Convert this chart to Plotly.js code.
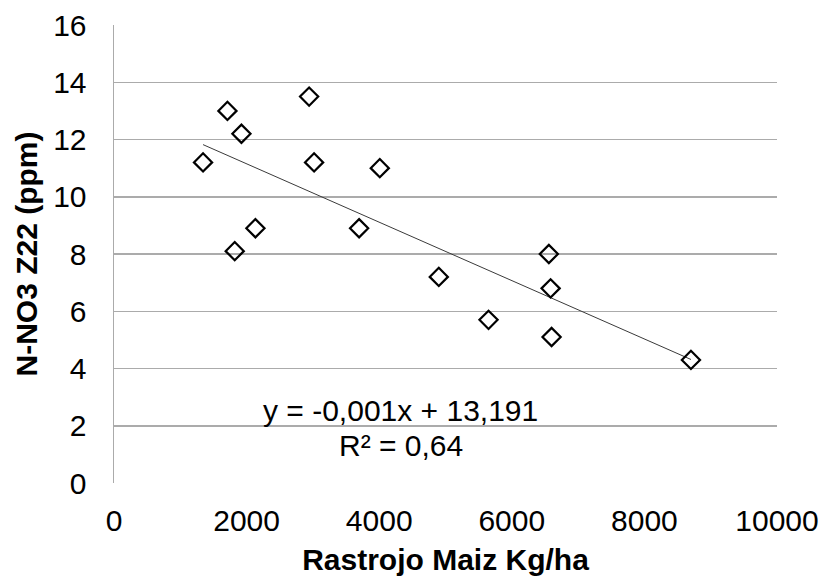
<!DOCTYPE html>
<html>
<head>
<meta charset="utf-8">
<script src="https://cdn.plot.ly/plotly-3.0.1.min.js"></script>
<style>
  html, body { margin: 0; padding: 0; background: #ffffff; }
  #chart { width: 824px; height: 579px; }
</style>
</head>
<body>
<div id="chart"></div>
<script>
// Corn stubble (kg/ha) vs. soil nitrate at Z22 (ppm)
const rastrojo = [1343, 1711, 1821, 1922, 2133, 2943, 3018, 3697, 4009, 4899, 5649, 6559, 6585, 6600, 8702];
const nitrato  = [11.2, 13.0, 8.1, 12.2, 8.9, 13.5, 11.2, 8.9, 11.0, 7.2, 5.7, 8.0, 6.8, 5.1, 4.3];

// Linear trend coefficients
const trendSlope = -0.00102;
const trendIntercept = 13.191;
const trendR2 = 0.64;

const xTicks = [0, 2000, 4000, 6000, 8000, 10000];
const yTicks = [0, 2, 4, 6, 8, 10, 12, 14, 16];

const xMin = Math.min(...rastrojo);
const xMax = Math.max(...rastrojo);
const trendX = [xMin, xMax];
const trendY = trendX.map(v => trendIntercept + trendSlope * v);

const fmt = (v, d) => v.toFixed(d).replace('.', ',');
const eqText = 'y = ' + fmt(trendSlope, 3) + 'x + ' + fmt(trendIntercept, 3);
const r2Text = 'R² = ' + fmt(trendR2, 2);

const font = 'Liberation Sans, Arial, sans-serif';
const tickSize = 30;
const titleSize = 30;

const data = [
  {
    x: trendX, y: trendY,
    type: 'scatter', mode: 'lines',
    line: { color: '#3a3a3a', width: 1 },
    hoverinfo: 'skip', showlegend: false
  },
  {
    x: rastrojo, y: nitrato,
    type: 'scatter', mode: 'markers',
    marker: { symbol: 'diamond-open', size: 14, color: '#000000', line: { color: '#000000', width: 2.2 } },
    showlegend: false
  }
];

const layout = {
  width: 824, height: 579,
  margin: { l: 114, r: 47, t: 25, b: 96, pad: 0 },
  paper_bgcolor: '#ffffff', plot_bgcolor: '#ffffff',
  font: { family: font, color: '#000000', size: tickSize },
  xaxis: {
    range: [0, 10000],
    tickvals: xTicks,
    ticktext: xTicks.map(String),
    showgrid: false, zeroline: false,
    showline: false,
    ticks: '', ticklabelstandoff: 17,
    tickfont: { family: font, size: tickSize, color: '#000000' },
    title: { text: '<b>Rastrojo Maiz Kg/ha</b>', font: { family: font, size: titleSize, color: '#000000' }, standoff: 12 },
    automargin: false,
    fixedrange: true
  },
  yaxis: {
    range: [0, 16],
    tickvals: yTicks,
    ticktext: yTicks.map(String),
    showgrid: true, gridcolor: '#ababab', gridwidth: 1.5,
    zeroline: false,
    showline: true, linecolor: '#ababab', linewidth: 1.5,
    ticks: '', ticklabelstandoff: 20,
    tickfont: { family: font, size: tickSize, color: '#000000' },
    title: { text: '<b>N-NO3 Z22 (ppm)</b>', font: { family: font, size: titleSize, color: '#000000' }, standoff: 6 },
    automargin: false,
    fixedrange: true
  },
  annotations: [
    {
      x: 4326, y: 2.55, xref: 'x', yref: 'y',
      text: eqText, showarrow: false,
      font: { family: font, size: tickSize, color: '#000000' },
      xanchor: 'center', yanchor: 'middle'
    },
    {
      x: 4326, y: 1.3, xref: 'x', yref: 'y',
      text: r2Text, showarrow: false,
      font: { family: font, size: tickSize, color: '#000000' },
      xanchor: 'center', yanchor: 'middle'
    }
  ]
};

Plotly.newPlot('chart', data, layout, { displayModeBar: false, staticPlot: true });
</script>
</body>
</html>
